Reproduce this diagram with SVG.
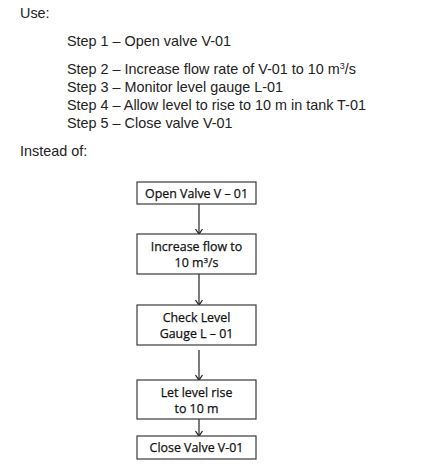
<svg xmlns="http://www.w3.org/2000/svg" width="441" height="473" viewBox="0 0 441 473">
<defs>
<marker id="ah" markerWidth="10" markerHeight="10" refX="8" refY="5" orient="auto" markerUnits="userSpaceOnUse">
<path d="M3,1.5 L8,5 L3,8.5" fill="none" stroke="#222" stroke-width="1.3"/>
</marker>
<style>
.t{font-family:"Liberation Sans",Arial,sans-serif;font-size:14.4px;fill:#222}
.n{font-family:"Open Sans","Noto Sans",sans-serif;font-size:12.4px;fill:#111;stroke:#111;stroke-width:0.25;text-anchor:middle}
.b{fill:#fff;stroke:#3a3a3a;stroke-width:1.2}
.c{stroke:#222;stroke-width:1.2;fill:none;marker-end:url(#ah)}
</style>
</defs>
<rect width="441" height="473" fill="#fff"/>
<g id="text">
<text class="t" x="20" y="18">Use:</text>
<text class="t" x="67" y="46">Step 1 – Open valve V-01</text>
<text class="t" x="67" y="74">Step 2 – Increase flow rate of V-01 to 10 m<tspan dy="-5" font-size="9px">3</tspan><tspan dy="5">/s</tspan></text>
<text class="t" x="67" y="92">Step 3 – Monitor level gauge L-01</text>
<text class="t" x="67" y="110">Step 4 – Allow level to rise to 10 m in tank T-01</text>
<text class="t" x="67" y="128">Step 5 – Close valve V-01</text>
<text class="t" x="20" y="156">Instead of:</text>
</g>
<g id="connectors">
<line class="c" x1="199" y1="204" x2="199" y2="234"/>
<line class="c" x1="199" y1="274" x2="199" y2="305"/>
<line class="c" x1="199" y1="350" x2="199" y2="380"/>
<line class="c" x1="199" y1="419" x2="199" y2="436"/>
</g>
<g id="n1"><rect class="b" x="137" y="182" width="119" height="22"/><text class="n" x="196.5" y="198">Open Valve V – 01</text></g>
<g id="n2"><rect class="b" x="137" y="234" width="119" height="40"/><text class="n" x="196.5" y="251">Increase flow to</text><text class="n" x="196.5" y="267">10 m<tspan dy="-4" font-size="8px">3</tspan><tspan dy="4">/s</tspan></text></g>
<g id="n3"><rect class="b" x="137" y="305" width="119" height="40"/><text class="n" x="196.5" y="322">Check Level</text><text class="n" x="196.5" y="338">Gauge L – 01</text></g>
<g id="n4"><rect class="b" x="137" y="380" width="119" height="39"/><text class="n" x="196.5" y="397">Let level rise</text><text class="n" x="196.5" y="413">to 10 m</text></g>
<g id="n5"><rect class="b" x="137" y="436" width="119" height="23"/><text class="n" x="196.5" y="452">Close Valve V-01</text></g>
</svg>
